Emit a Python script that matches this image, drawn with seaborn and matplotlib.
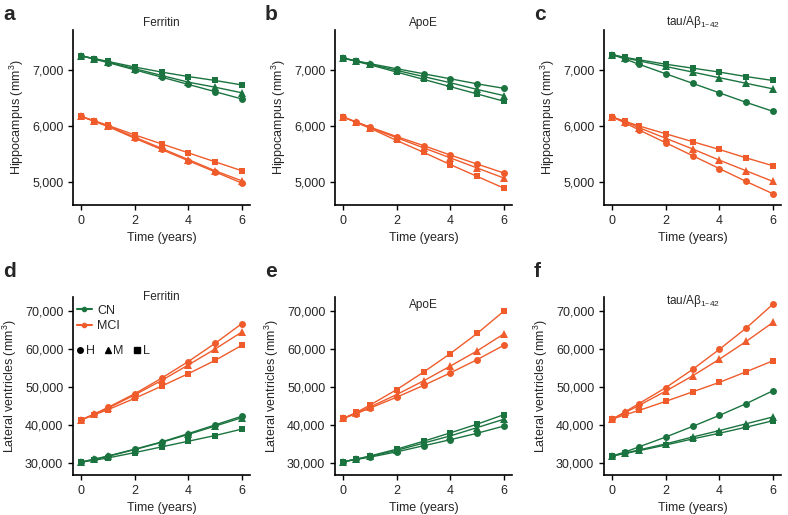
import matplotlib
matplotlib.use("Agg")
import matplotlib.pyplot as plt
from matplotlib.lines import Line2D
from matplotlib.ticker import FuncFormatter
import seaborn as sns
import pandas as pd

# time points (years)
years = [0, 0.5, 1, 2, 3, 4, 5, 6]
levels = ["H", "M", "L"]

# Hippocampus (mm3)
hip_ferritin_cn = {"H": [7250, 7190, 7130, 7000, 6870, 6740, 6610, 6480],
                   "M": [7250, 7195, 7140, 7020, 6900, 6780, 6690, 6590],
                   "L": [7250, 7200, 7150, 7050, 6960, 6880, 6810, 6730]}
hip_ferritin_mci = {"H": [6170, 6080, 5990, 5780, 5580, 5380, 5180, 4980],
                    "M": [6170, 6085, 6000, 5800, 5600, 5400, 5200, 5020],
                    "L": [6170, 6090, 6010, 5840, 5680, 5520, 5360, 5200]}
hip_apoe_cn = {"H": [7210, 7160, 7110, 7020, 6930, 6840, 6750, 6670],
               "M": [7210, 7155, 7100, 6990, 6880, 6770, 6650, 6540],
               "L": [7210, 7150, 7090, 6960, 6830, 6700, 6570, 6440]}
hip_apoe_mci = {"H": [6160, 6070, 5980, 5810, 5650, 5480, 5320, 5160],
                "M": [6160, 6065, 5970, 5790, 5610, 5430, 5250, 5070],
                "L": [6160, 6060, 5960, 5740, 5530, 5310, 5100, 4890]}
hip_tau_cn = {"H": [7270, 7190, 7100, 6930, 6760, 6590, 6420, 6260],
              "M": [7270, 7210, 7160, 7060, 6960, 6860, 6760, 6660],
              "L": [7270, 7220, 7180, 7100, 7030, 6960, 6880, 6810]}
hip_tau_mci = {"H": [6160, 6050, 5930, 5700, 5470, 5240, 5010, 4790],
               "M": [6160, 6070, 5970, 5780, 5590, 5390, 5200, 5010],
               "L": [6160, 6080, 6000, 5860, 5720, 5580, 5430, 5290]}

# Lateral ventricles (mm3)
ven_ferritin_cn = {"H": [30200, 31000, 31800, 33600, 35500, 37700, 40000, 42300],
                   "M": [30200, 30900, 31700, 33500, 35400, 37500, 39700, 41900],
                   "L": [30200, 30700, 31300, 32700, 34200, 35700, 37200, 38900]}
ven_ferritin_mci = {"H": [41300, 42900, 44600, 48200, 52300, 56700, 61500, 66700],
                    "M": [41300, 42800, 44400, 47900, 51700, 55800, 60000, 64500],
                    "L": [41300, 42700, 44000, 47000, 50200, 53500, 57000, 61000]}
ven_apoe_cn = {"H": [30300, 30900, 31500, 32900, 34500, 36100, 37800, 39700],
               "M": [30300, 30950, 31700, 33300, 35200, 37100, 39300, 41500],
               "L": [30300, 31000, 31800, 33600, 35700, 37900, 40200, 42700]}
ven_apoe_mci = {"H": [41700, 43000, 44400, 47300, 50400, 53700, 57200, 61000],
                "M": [41700, 43100, 44700, 48000, 51600, 55500, 59500, 64000],
                "L": [41700, 43300, 45200, 49300, 53900, 58800, 64100, 70000]}
ven_tau_cn = {"H": [31800, 32900, 34200, 36800, 39600, 42500, 45600, 49000],
              "M": [31800, 32600, 33400, 35000, 36800, 38500, 40300, 42100],
              "L": [31800, 32500, 33200, 34700, 36300, 37800, 39400, 41100]}
ven_tau_mci = {"H": [41500, 43500, 45600, 49800, 54600, 59900, 65500, 71800],
               "M": [41500, 43300, 45100, 48900, 52900, 57300, 62000, 67000],
               "L": [41500, 42700, 43800, 46200, 48700, 51200, 54000, 56900]}

green = "#1b7440"
orange = "#ef5b2b"
palette = {"CN": green, "MCI": orange}
markers = {"H": "o", "M": "^", "L": "s"}

sns.set_style("ticks")
plt.rcParams["font.family"] = ["Liberation Sans", "DejaVu Sans"]
plt.rcParams["mathtext.default"] = "regular"

tau_title = "tau/A$\\beta_{1\u201342}$"
panels = [
    ("a", "Ferritin", hip_ferritin_cn, hip_ferritin_mci, "Hippocampus (mm$^3$)"),
    ("b", "ApoE", hip_apoe_cn, hip_apoe_mci, "Hippocampus (mm$^3$)"),
    ("c", tau_title, hip_tau_cn, hip_tau_mci, "Hippocampus (mm$^3$)"),
    ("d", "Ferritin", ven_ferritin_cn, ven_ferritin_mci, "Lateral ventricles (mm$^3$)"),
    ("e", "ApoE", ven_apoe_cn, ven_apoe_mci, "Lateral ventricles (mm$^3$)"),
    ("f", tau_title, ven_tau_cn, ven_tau_mci, "Lateral ventricles (mm$^3$)"),
]

W, H = 788, 515
fig = plt.figure(figsize=(W / 100, H / 100), dpi=100)
lefts = [73, 335, 604]
tops = [30, 297]
heights = [175, 178]
width = 177
title_y = {"d": 1.035, "e": 0.99, "f": 1.02}

comma = FuncFormatter(lambda v, p: f"{int(v):,}")

for i, (letter, title, cn, mci, ylabel) in enumerate(panels):
    row, col = divmod(i, 3)
    ax = fig.add_axes([lefts[col] / W, 1 - (tops[row] + heights[row]) / H,
                       width / W, heights[row] / H])
    rows = []
    for grp, d in (("CN", cn), ("MCI", mci)):
        for lv in levels:
            for t, v in zip(years, d[lv]):
                rows.append({"time": t, "value": v, "group": grp, "level": lv})
    df = pd.DataFrame(rows)
    df["series"] = df["group"] + df["level"]
    sns.lineplot(data=df, x="time", y="value", hue="group", style="level",
                 units="series", estimator=None, palette=palette,
                 markers=markers, dashes=False, markersize=5,
                 markeredgewidth=0, linewidth=1, legend=False, ax=ax)
    # triangles look smaller at the same size, bump them a little
    for ln in ax.lines:
        if ln.get_marker() == "^":
            ln.set_markersize(6)
    ax.set_xlim(-0.3, 6.3)
    ax.set_xticks([0, 2, 4, 6])
    if row == 0:
        ax.set_ylim(4590, 7710)
        ax.set_yticks([5000, 6000, 7000])
        ax.set_title(title, fontsize=8.5, pad=3)
    else:
        ax.set_ylim(26800, 73700)
        ax.set_yticks([30000, 40000, 50000, 60000, 70000])
        ax.text(0.5, title_y[letter], title, transform=ax.transAxes,
                ha="center", va="top", fontsize=8.5)
    ax.yaxis.set_major_formatter(comma)
    ax.set_xlabel("Time (years)", fontsize=9)
    ax.set_ylabel(ylabel, fontsize=9)
    ax.tick_params(labelsize=9, width=1, length=3.5, color="black")
    for s in ("left", "bottom"):
        ax.spines[s].set_linewidth(1.2)
        ax.spines[s].set_color("black")
    sns.despine(ax=ax)
    fig.text((3 if col == 0 else lefts[col] - 70) / W,
             1 - (5 if row == 0 else 262) / H, letter,
             fontsize=15, fontweight="bold", va="top", ha="left")

    if letter == "d":
        h1 = [Line2D([], [], color=green, marker="o", markersize=3, lw=1.5),
              Line2D([], [], color=orange, marker="o", markersize=3, lw=1.5)]
        leg1 = ax.legend(h1, ["CN", "MCI"], loc="upper left",
                         bbox_to_anchor=(-0.02, 1.0), frameon=False,
                         fontsize=9, handlelength=1.2, handletextpad=0.4,
                         labelspacing=0.3, borderaxespad=0.2)
        ax.add_artist(leg1)
        h2 = [Line2D([], [], color="black", marker=m, lw=0, markersize=4)
              for m in ("o", "^", "s")]
        ax.legend(h2, levels, loc="upper left", bbox_to_anchor=(-0.02, 0.77),
                  ncol=3, frameon=False, fontsize=9, handlelength=0.5,
                  handletextpad=0.2, columnspacing=0.8, borderaxespad=0.2)

fig.savefig("out.png", dpi=100)
